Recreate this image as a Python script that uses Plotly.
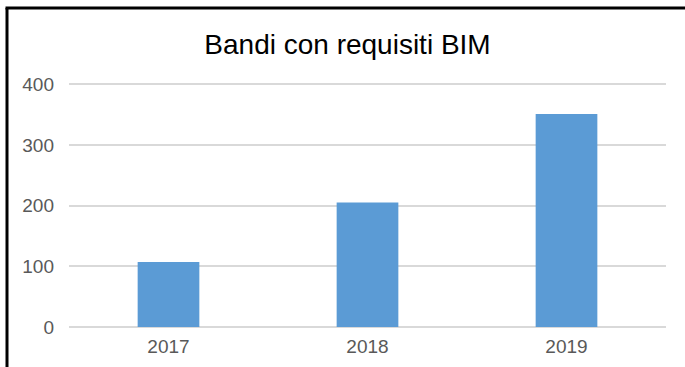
import plotly.graph_objects as go

years = ["2017", "2018", "2019"]
bandi = [107, 205, 351]
y_ticks = [0, 100, 200, 300, 400]

W, H = 685, 367
L, R, B = 69, 19, 40
y_max = 402
px_per_unit = 243 / 400
T = round(H - B - y_max * px_per_unit)
pw, ph = W - L - R, H - T - B

def px_x(x):
    return (x - L) / pw

def px_y(y):
    return (H - B - y) / ph

fig = go.Figure(go.Bar(x=years, y=bandi, marker=dict(color="#5B9BD5", line=dict(width=0)),
                       width=0.31))

fig.update_layout(
    width=W, height=H,
    margin=dict(l=L, r=R, t=T, b=B, autoexpand=False),
    paper_bgcolor="white", plot_bgcolor="white",
    showlegend=False,
    title=dict(text="Bandi con requisiti BIM", x=347.5 / W, xanchor="center",
               y=1 - 44.5 / H, yanchor="middle",
               font=dict(family="Liberation Sans, Arial", size=28, color="#000000")),
    font=dict(family="Liberation Sans, Arial", color="#595959"),
    bargap=0.69,
)
fig.update_yaxes(range=[0, y_max], tickvals=y_ticks, ticktext=[str(v) for v in y_ticks],
                 showgrid=True, gridcolor="#D9D9D9", gridwidth=1.5,
                 zeroline=True, zerolinecolor="#D9D9D9", zerolinewidth=1.5,
                 showline=False, ticks="", ticklabelstandoff=14, automargin=False,
                 tickfont=dict(size=19, color="#595959"))
fig.update_xaxes(showgrid=False, showline=False, ticks="", ticklabelstandoff=6, automargin=False,
                 tickfont=dict(size=19, color="#595959"))

# outer black frame (left and top edges visible in the reference)
fig.add_shape(type="line", xref="paper", yref="paper",
              x0=px_x(7), x1=px_x(7), y0=px_y(8), y1=px_y(380),
              line=dict(color="black", width=3))
fig.add_shape(type="line", xref="paper", yref="paper",
              x0=px_x(5.5), x1=px_x(700), y0=px_y(8), y1=px_y(8),
              line=dict(color="black", width=3))

fig.write_html("out.html", config={"displayModeBar": False},
               post_script="document.body.style.margin='0';document.body.style.overflow='hidden';")
